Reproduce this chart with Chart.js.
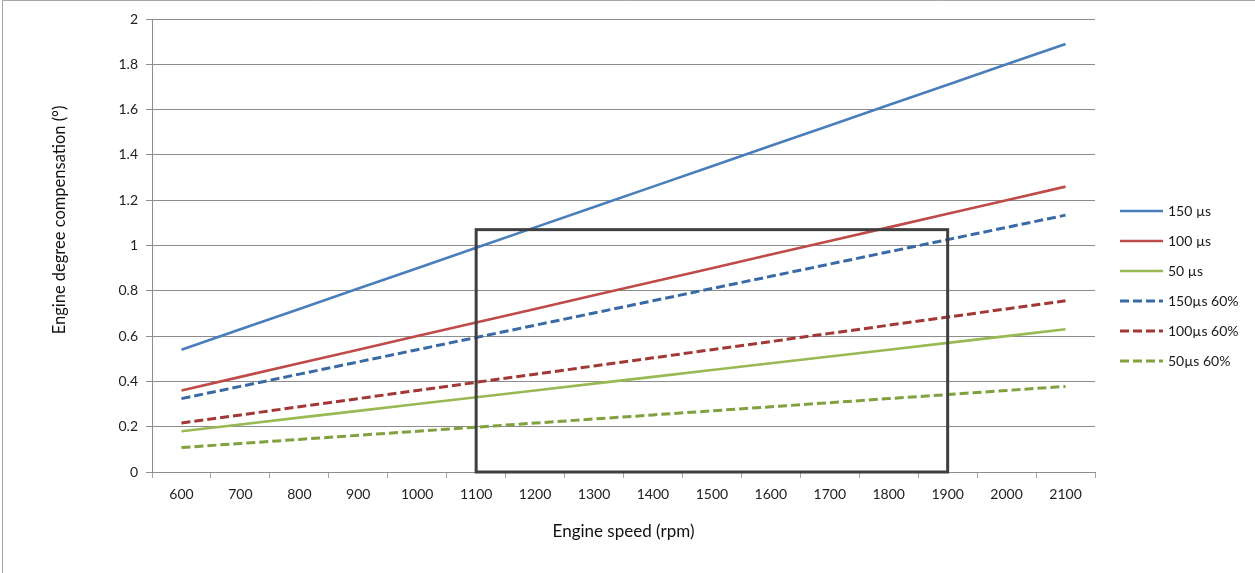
<!DOCTYPE html>
<html>
<head>
<meta charset="utf-8">
<script src="https://cdn.jsdelivr.net/npm/chart.js@4/dist/chart.umd.min.js"></script>
<style>
  html, body { margin: 0; padding: 0; background: #fff; }
  #wrap { width: 1255px; height: 573px; position: relative; }
</style>
</head>
<body>
<div id="wrap"><canvas id="myChart"></canvas></div>
<script>
// engine speed categories (rpm)
var speeds = ['600', '700', '800', '900', '1000', '1100', '1200', '1300', '1400', '1500', '1600', '1700', '1800', '1900', '2000', '2100'];

// degree compensation
var us150 = [0.54, 0.63, 0.72, 0.81, 0.90, 0.99, 1.08, 1.17, 1.26, 1.35, 1.44, 1.53, 1.62, 1.71, 1.80, 1.89];
var us100 = [0.36, 0.42, 0.48, 0.54, 0.60, 0.66, 0.72, 0.78, 0.84, 0.90, 0.96, 1.02, 1.08, 1.14, 1.20, 1.26];
var us50 = [0.18, 0.21, 0.24, 0.27, 0.30, 0.33, 0.36, 0.39, 0.42, 0.45, 0.48, 0.51, 0.54, 0.57, 0.60, 0.63];
var us150p60 = [0.324, 0.378, 0.432, 0.486, 0.54, 0.594, 0.648, 0.702, 0.756, 0.81, 0.864, 0.918, 0.972, 1.026, 1.08, 1.134];
var us100p60 = [0.216, 0.252, 0.288, 0.324, 0.36, 0.396, 0.432, 0.468, 0.504, 0.54, 0.576, 0.612, 0.648, 0.684, 0.72, 0.756];
var us50p60 = [0.108, 0.126, 0.144, 0.162, 0.18, 0.198, 0.216, 0.234, 0.252, 0.27, 0.288, 0.306, 0.324, 0.342, 0.36, 0.378];

var seriesNames = ['150 µs', '100 µs', '50 µs', '150µs 60%', '100µs 60%', '50µs 60%'];

// highlighted window (speed range, degree range)
var boxSpeeds = ['1100', '1900'];
var boxDegrees = [0, 1.07];

var yTitle = 'Engine degree compensation (°)';
var xTitle = 'Engine speed (rpm)';

var fontFamily = 'Lato, "Open Sans", sans-serif';

function serie(label, data, color, dashed) {
    return {
        label: label,
        data: data,
        borderColor: color,
        backgroundColor: color,
        borderWidth: dashed ? 3 : 2.6,
        borderDash: dashed ? [9, 4] : [],
        pointRadius: 0,
        pointHoverRadius: 0,
        tension: 0,
        fill: false
    };
}

var frame = {
    id: 'frame',
    beforeDraw: function (chart) {
        var c = chart.ctx;
        c.save();
        c.strokeStyle = '#a6a6a6';
        c.lineWidth = 1;
        c.beginPath();
        c.moveTo(2.5, chart.height + 5);
        c.lineTo(2.5, 0.5);
        c.lineTo(chart.width + 5, 0.5);
        c.stroke();
        c.restore();
    },
    afterDraw: function (chart) {
        // y axis title, sits a bit above the plot centre like the original
        var c = chart.ctx;
        c.save();
        c.translate(60, 220);
        c.rotate(-Math.PI / 2);
        c.fillStyle = '#111';
        c.font = '16.5px ' + fontFamily;
        c.textAlign = 'center';
        c.textBaseline = 'middle';
        c.fillText(yTitle, 0, 0);
        c.restore();
    }
};

var windowBox = {
    id: 'windowBox',
    afterDatasetsDraw: function (chart) {
        var x = chart.scales.x, y = chart.scales.y, c = chart.ctx;
        var x0 = x.getPixelForValue(speeds.indexOf(boxSpeeds[0]));
        var x1 = x.getPixelForValue(speeds.indexOf(boxSpeeds[1]));
        var y0 = y.getPixelForValue(boxDegrees[0]);
        var y1 = y.getPixelForValue(boxDegrees[1]);
        c.save();
        c.strokeStyle = '#3f3f3f';
        c.lineWidth = 3;
        c.strokeRect(x0, y1, x1 - x0, y0 - y1);
        c.restore();
    }
};

var sideLegend = {
    id: 'sideLegend',
    afterDraw: function (chart) {
        var c = chart.ctx;
        var left = chart.chartArea.right + 25;
        var top = 211;
        c.save();
        chart.data.datasets.forEach(function (ds, i) {
            var yy = top + i * 30;
            c.strokeStyle = ds.borderColor;
            c.lineWidth = ds.borderWidth;
            c.setLineDash(ds.borderDash);
            c.beginPath();
            c.moveTo(left, yy);
            c.lineTo(left + 43, yy);
            c.stroke();
            c.setLineDash([]);
            c.fillStyle = '#1a1a1a';
            c.font = '14px ' + fontFamily;
            c.textBaseline = 'middle';
            c.fillText(ds.label, left + 48, yy);
        });
        c.restore();
    }
};

var ctx = document.getElementById('myChart').getContext('2d');
var dados = {
    type: 'line',
    data: {
        labels: speeds,
        datasets: [
            serie(seriesNames[0], us150, '#4a7ebb', false),
            serie(seriesNames[1], us100, '#be4b48', false),
            serie(seriesNames[2], us50, '#98b954', false),
            serie(seriesNames[3], us150p60, '#3a6aa6', true),
            serie(seriesNames[4], us100p60, '#a13835', true),
            serie(seriesNames[5], us50p60, '#7fa23f', true)
        ]
    },
    options: {
        responsive: true,
        maintainAspectRatio: false,
        animation: false,
        layout: { padding: { left: 0, right: 160, top: 19, bottom: 0 } },
        plugins: {
            legend: { display: false },
            tooltip: { enabled: false }
        },
        scales: {
            x: {
                type: 'category',
                offset: true,
                afterFit: function (s) { s.height = 101; },
                grid: {
                    offset: true,
                    drawOnChartArea: false,
                    drawTicks: true,
                    tickLength: 6,
                    color: '#a6a6a6'
                },
                border: { color: '#8c8c8c' },
                ticks: {
                    color: '#222',
                    padding: 8,
                    maxRotation: 0,
                    autoSkip: false,
                    font: { family: fontFamily, size: 14 }
                },
                title: {
                    display: true,
                    text: xTitle,
                    color: '#111',
                    font: { family: fontFamily, size: 17 },
                    padding: { top: 0, bottom: 31 }
                }
            },
            y: {
                min: 0,
                max: 2,
                afterFit: function (s) { s.width = 152; },
                grid: {
                    color: '#8c8c8c',
                    tickLength: 6
                },
                border: { color: '#8c8c8c' },
                ticks: {
                    stepSize: 0.2,
                    color: '#222',
                    padding: 8,
                    font: { family: fontFamily, size: 14 },
                    callback: function (v) { return String(Math.round(v * 10) / 10); }
                }
            }
        }
    },
    plugins: [frame, windowBox, sideLegend]
};
var myLineChart = new Chart(ctx, dados);
</script>
</body>
</html>
